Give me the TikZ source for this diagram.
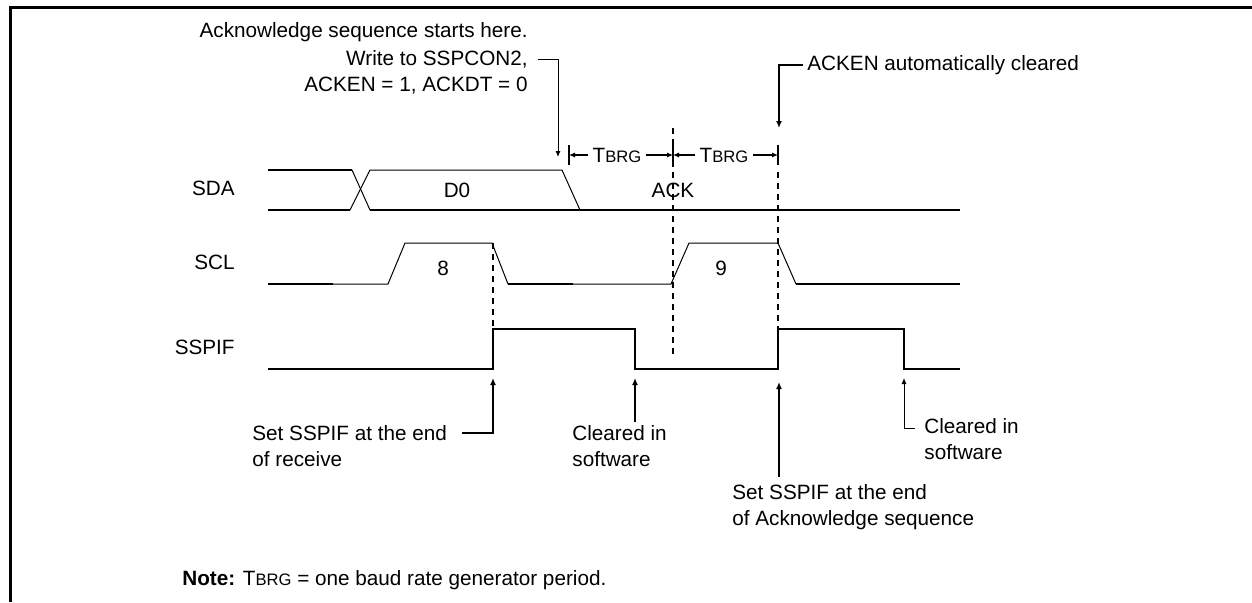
\documentclass[tikz,border=0pt]{standalone}
\usepackage{fontspec}
\setmainfont{Liberation Sans}
\usetikzlibrary{arrows.meta,calc}

\newcommand*{\sdahi}{170}
\newcommand*{\sdalo}{210}
\newcommand*{\sclhi}{243}
\newcommand*{\scllo}{284}
\newcommand*{\ifhi}{329}
\newcommand*{\iflo}{369}
\newcommand*{\tbrg}{T{\fontsize{8.3}{9}\selectfont BRG}}

\begin{document}
\begin{tikzpicture}
[
	x=0.5pt, y=-0.5pt,
	wave/.style={line width=1pt},
	slope/.style={line width=0.5pt},
	guide/.style={line width=1pt,dash pattern=on 3pt off 2.5pt},
	pointer/.style={line width=0.5pt,-{Latex[length=3pt,width=2.6pt]}},
	bigpointer/.style={line width=1pt,-{Latex[length=3.5pt,width=3pt]}},
	txt/.style={font=\fontsize{10.35}{12.8}\selectfont,inner sep=0pt},
	sig/.style={txt,anchor=east},
	note/.style={txt,align=left,anchor=north west}
]

	\useasboundingbox (0,0) rectangle (1252,602);
	\draw[line width=1.5pt] (10,602) -- (10,7) -- (1252,7);

	% signal names
	\node[sig] (sda) at (235,188) {SDA};
	\node[sig] (scl) at (235,262) {SCL};
	\node[sig] (sspif) at (235,347) {SSPIF};

	% SDA
	\draw[wave] (268,\sdahi) -- (352,\sdahi);
	\draw[slope] (352,\sdahi) -- (370,\sdalo);
	\draw[wave] (268,\sdalo) -- (350,\sdalo);
	\draw[slope] (350,\sdalo) -- (370,\sdahi) -- (562,\sdahi) -- (580,\sdalo);
	\draw[wave] (370,\sdalo) -- (960,\sdalo);
	\node[txt] (d0) at (457,190) {D0};
	\node[txt] (ack) at (673,190) {ACK};

	% SCL
	\draw[wave] (268,\scllo) -- (333,\scllo);
	\draw[slope] (333,\scllo) -- (388,\scllo) -- (405,\sclhi) -- (492,\sclhi) -- (508,\scllo);
	\draw[wave] (508,\scllo) -- (573,\scllo);
	\draw[slope] (573,\scllo) -- (671,\scllo) -- (689,\sclhi) -- (778,\sclhi) -- (796,\scllo);
	\draw[wave] (796,\scllo) -- (960,\scllo);
	\node[txt] (clk8) at (443,268) {8};
	\node[txt] (clk9) at (721,268) {9};

	% SSPIF
	\draw[wave]
	  (268,\iflo) -- (493,\iflo) -- (493,\ifhi)
	  -- (635,\ifhi) -- (635,\iflo) -- (778,\iflo)
	  -- (778,\ifhi) -- (904,\ifhi) -- (904,\iflo) -- (960,\iflo)
	;

	% guides
	\draw[guide] (493,\sclhi) -- (493,\ifhi);
	\draw[guide] (673,128) -- (673,355);
	\draw[guide] (778,172) -- (778,\ifhi);

	% baud periods
	\foreach \x/\n in {569/1,673/2,778/3} {
		\draw[wave] (\x,145) -- (\x,165);
		\coordinate (tick\n) at (\x,155);
	}
	\node[txt,inner sep=2pt] (brg1) at (617,155) {\tbrg};
	\node[txt,inner sep=2pt] (brg2) at (724,155) {\tbrg};
	\draw[pointer,line width=0.75pt] (brg1.west) -- (tick1);
	\draw[pointer,line width=0.75pt] (brg1.east) -- (tick2);
	\draw[pointer,line width=0.75pt] (brg2.west) -- (tick2);
	\draw[pointer,line width=0.75pt] (brg2.east) -- (tick3);

	% callouts at the top
	\node[txt,anchor=north east] (ackhead) at (528,22) {Acknowledge sequence starts here.};
	\node[txt,anchor=north east] (wrline) at (528,50) {Write to SSPCON2,};
	\node[txt,anchor=north east] (ackline) at (528,77) {ACKEN = 1, ACKDT = 0};
	\coordinate (wrpt) at (558,157);
	\draw[pointer] ([xshift=5pt]wrline.east) -| (wrpt);

	\node[txt,anchor=west] (autoclr) at (807,65) {ACKEN automatically cleared};
	\coordinate (clrpt) at (779,128);
	\draw[bigpointer] ([xshift=-2pt]autoclr.west) -| (clrpt);

	% callouts at the bottom
	\node[note] (setrx) at (252,425) {Set SSPIF at the end\\of receive};
	\coordinate (rxpt) at (493,378);
	\draw[bigpointer] ($(setrx.north east)+(15,8)$) -| (rxpt);

	\node[note] (clrsw) at (572,425) {Cleared in\\software};
	\coordinate (swpt) at (635,378);
	\draw[bigpointer] ($(clrsw.north -| swpt)+(0,-3)$) -- (swpt);

	\node[note] (setack) at (732,484) {Set SSPIF at the end\\of Acknowledge sequence};
	\coordinate (ackpt) at (779,382);
	\draw[bigpointer] ($(setack.north -| ackpt)+(0,-7)$) -- (ackpt);

	\node[note] (clrsw2) at (924,418) {Cleared in\\software};
	\coordinate (swpt2) at (904,378);
	\draw[pointer] ($(clrsw2.north west)+(-9,10)$) -| (swpt2);

	\node[note] (note) at (182,570) {\textbf{Note:} \tbrg{} = one baud rate generator period.};

\end{tikzpicture}
\end{document}
